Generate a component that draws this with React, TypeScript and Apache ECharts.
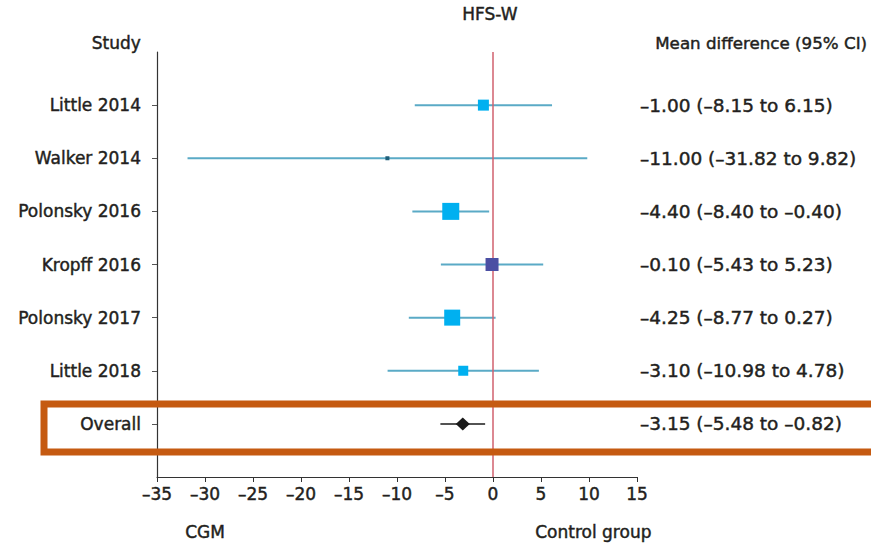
import React, { useEffect, useRef } from "react";
import * as echarts from "echarts";

const studies = ["Little 2014", "Walker 2014", "Polonsky 2016", "Kropff 2016", "Polonsky 2017", "Little 2018", "Overall"];
const means = [-1.0, -11.0, -4.4, -0.1, -4.25, -3.1, -3.15];
const lower = [-8.15, -31.82, -8.4, -5.43, -8.77, -10.98, -5.48];
const upper = [6.15, 9.82, -0.4, 5.23, 0.27, 4.78, -0.82];
const markerSizes = [11, 4, 17, 13, 16, 10, 14];
const markerColors = ["#00b0f0", "#1f5f7a", "#00b0f0", "#4b4fa3", "#00b0f0", "#00b0f0", "#1a1a1a"];
const xTicks = { min: -35, max: 15, interval: 5 };

const FONT = "DejaVu Sans, Liberation Sans, sans-serif";
const TEXT = "#231f20";
const BORDER = { textBorderColor: TEXT, textBorderWidth: 0.45 };

const dash = (v: number) => (v < 0 ? "\u2013" + Math.abs(v).toFixed(2) : v.toFixed(2));
const ciText = studies.map((_, i) => `${dash(means[i])} (${dash(lower[i])} to ${dash(upper[i])})`);
const rowIdx = studies.map((_, i) => i);

export default function App() {
  const ref = useRef<HTMLDivElement>(null);
  useEffect(() => {
    if (!ref.current) return;
    const chart = echarts.init(ref.current, null, { renderer: "svg" });
    const yBase = {
      type: "value" as const,
      min: -1,
      max: 7,
      interval: 1,
      inverse: true,
      splitLine: { show: false },
    };
    const gText = (text: string, pos: any, size = 17) => ({
      type: "text",
      ...pos,
      style: { text, fontSize: size, fill: TEXT, fontFamily: FONT, stroke: TEXT, lineWidth: 0.45 },
    });
    chart.setOption({
      animation: false,
      textStyle: { fontFamily: FONT },
      grid: { left: 157, right: 234, top: 52, bottom: 67 },
      xAxis: {
        type: "value",
        min: xTicks.min,
        max: xTicks.max,
        interval: xTicks.interval,
        splitLine: { show: false },
        axisLine: { show: true, onZero: false, lineStyle: { color: "#333", width: 1.2 } },
        axisTick: { show: true, length: 5, lineStyle: { color: "#333" } },
        axisLabel: {
          margin: 8,
          fontSize: 17,
          color: TEXT,
          fontFamily: FONT,
          ...BORDER,
          formatter: (v: number) => (v < 0 ? "\u2013" + Math.abs(v) : String(v)),
        },
      },
      yAxis: [
        {
          ...yBase,
          position: "left",
          axisLine: { show: true, onZero: false, lineStyle: { color: "#333", width: 1.2 } },
          axisTick: { show: true, length: 5, customValues: rowIdx, lineStyle: { color: "#555" } },
          axisLabel: {
            margin: 16,
            fontSize: 17,
            color: TEXT,
            fontFamily: FONT,
            ...BORDER,
            customValues: rowIdx,
            formatter: (v: number) => studies[v] ?? "",
          },
        },
        {
          ...yBase,
          position: "right",
          axisLine: { show: false },
          axisTick: { show: false },
          axisLabel: {
            margin: 3,
            fontSize: 18.5,
            color: TEXT,
            fontFamily: FONT,
            ...BORDER,
            customValues: rowIdx,
            formatter: (v: number) => ciText[v] ?? "",
          },
        },
      ],
      series: [
        {
          type: "custom",
          renderItem: (params: any, api: any) => {
            const i = params.dataIndex;
            const p1 = api.coord([api.value(0), api.value(2)]);
            const p2 = api.coord([api.value(1), api.value(2)]);
            return {
              type: "line",
              shape: { x1: p1[0], y1: p1[1], x2: p2[0], y2: p2[1] },
              style: { stroke: i === studies.length - 1 ? "#1a1a1a" : "#5aaac6", lineWidth: i === studies.length - 1 ? 1.5 : 2 },
            };
          },
          data: studies.map((_, i) => [lower[i], upper[i], i]),
          encode: { x: [0, 1], y: 2 },
          z: 2,
        },
        {
          type: "scatter",
          data: studies.slice(0, 6).map((_, i) => [means[i], i]),
          symbol: "rect",
          symbolSize: (_v: any, p: any) => markerSizes[p.dataIndex],
          itemStyle: { color: (p: any) => markerColors[p.dataIndex], opacity: 1 },
          z: 4,
          markLine: {
            silent: true,
            symbol: ["none", "none"],
            label: { show: false },
            lineStyle: { color: "#d0606e", width: 1.5, type: "solid" },
            data: [{ xAxis: 0 }],
            z: 3,
          },
        },
        {
          type: "scatter",
          data: [[means[6], 6]],
          symbol: "diamond",
          symbolSize: [markerSizes[6], 13],
          itemStyle: { color: markerColors[6], opacity: 1 },
          z: 4,
        },
      ],
      graphic: [
        gText("HFS-W", { left: 462, top: 5 }),
        gText("Study", { right: 871 - 141, top: 34 }),
        gText("Mean difference (95% CI)", { left: 655, top: 34 }, 16.7),
        gText("CGM", { left: 185, top: 523 }),
        gText("Control group", { left: 535, top: 523 }),
        {
          type: "rect",
          z: 100,
          shape: { x: 44, y: 404, width: 900, height: 48 },
          style: { fill: "none", stroke: "#c55a11", lineWidth: 7 },
        },
      ],
    });
    return () => chart.dispose();
  }, []);
  return <div ref={ref} style={{ width: 871, height: 544, position: "absolute", left: 0, top: 0 }} />;
}
